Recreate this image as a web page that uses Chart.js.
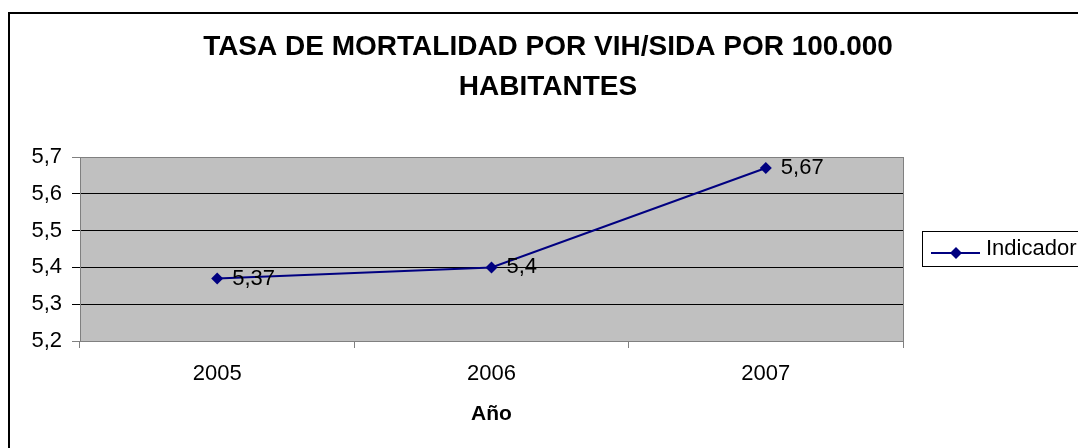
<!DOCTYPE html>
<html lang="es">
<head>
<meta charset="utf-8">
<title>Tasa de mortalidad por VIH/SIDA</title>
<script src="https://cdn.jsdelivr.net/npm/chart.js@4.4.1/dist/chart.umd.min.js"></script>
<style>
  html, body { margin: 0; padding: 0; background: #fff; }
  #contenedor { width: 1078px; height: 448px; }
</style>
</head>
<body>
<div id="contenedor"><canvas id="grafico" width="1078" height="448"></canvas></div>
<script>
// ── Datos ───────────────────────────────────────────────────────────────────
const anos = ['2005', '2006', '2007']
const indicador = [5.37, 5.4, 5.67]
const nombreSerie = 'Indicador'
const titulo = ['TASA DE MORTALIDAD POR VIH/SIDA POR 100.000', 'HABITANTES']
const tituloEjeX = 'Año'
const ejeYMin = 5.2
const ejeYMax = 5.7
const ejeYPaso = 0.1

const FUENTE = "'Liberation Sans', Arial, sans-serif"
const AZUL = '#000080'

const conComa = (v) => String(v).replace('.', ',')

// ── Decoración estilo Excel (fondo, título, leyenda, etiquetas) ─────────────
const decoracion = {
  id: 'decoracion',
  beforeDraw(chart) {
    const { ctx, chartArea: a } = chart
    ctx.save()
    ctx.fillStyle = '#fff'
    ctx.fillRect(0, 0, chart.width, chart.height)
    ctx.strokeStyle = '#000'
    ctx.lineWidth = 2
    ctx.strokeRect(9, 13, 1400, 800)
    ctx.fillStyle = '#c0c0c0'
    ctx.fillRect(a.left, a.top, a.right - a.left, a.bottom - a.top)
    ctx.restore()
  },
  afterDatasetsDraw(chart) {
    const { ctx } = chart
    const meta = chart.getDatasetMeta(0)
    ctx.save()
    ctx.fillStyle = '#000'
    ctx.font = `22px ${FUENTE}`
    ctx.textBaseline = 'middle'
    ctx.textAlign = 'left'
    meta.data.forEach((pt, i) => {
      ctx.fillText(conComa(indicador[i]), pt.x + 15, pt.y)
    })
    ctx.restore()
  },
  afterDraw(chart) {
    const { ctx, chartArea: a } = chart
    ctx.save()
    // borde derecho del área de trazado
    ctx.strokeStyle = '#808080'
    ctx.lineWidth = 1
    ctx.beginPath()
    ctx.moveTo(Math.round(a.right) + 0.5, a.top)
    ctx.lineTo(Math.round(a.right) + 0.5, a.bottom)
    ctx.stroke()

    // título
    ctx.fillStyle = '#000'
    ctx.textAlign = 'center'
    ctx.textBaseline = 'middle'
    ctx.font = `bold 28px ${FUENTE}`
    ctx.fillText(titulo[0], 548, 47)
    ctx.fillText(titulo[1], 548, 87)

    // título del eje X
    ctx.font = `bold 21px ${FUENTE}`
    ctx.fillText(tituloEjeX, (a.left + a.right) / 2, 414)

    // leyenda
    ctx.fillStyle = '#fff'
    ctx.fillRect(922, 231, 200, 36)
    ctx.strokeStyle = '#000'
    ctx.strokeRect(922.5, 231.5, 200, 35)
    ctx.strokeStyle = AZUL
    ctx.lineWidth = 2
    ctx.beginPath()
    ctx.moveTo(931, 253)
    ctx.lineTo(980, 253)
    ctx.stroke()
    ctx.fillStyle = AZUL
    ctx.beginPath()
    ctx.moveTo(956, 247)
    ctx.lineTo(962, 253)
    ctx.lineTo(956, 259)
    ctx.lineTo(950, 253)
    ctx.closePath()
    ctx.fill()
    ctx.fillStyle = '#000'
    ctx.textAlign = 'left'
    ctx.font = `22px ${FUENTE}`
    ctx.fillText(nombreSerie, 986, 249)
    ctx.restore()
  },
}

// ── Gráfico ─────────────────────────────────────────────────────────────────
new Chart(document.getElementById('grafico'), {
  type: 'line',
  data: {
    labels: anos,
    datasets: [
      {
        label: nombreSerie,
        data: indicador,
        borderColor: AZUL,
        backgroundColor: AZUL,
        borderWidth: 2,
        tension: 0,
        pointStyle: 'rectRot',
        pointRadius: 6,
        pointBorderWidth: 0,
        pointBackgroundColor: AZUL,
      },
    ],
  },
  options: {
    responsive: false,
    animation: false,
    layout: { padding: { top: 157, right: 175, left: 0, bottom: 0 } },
    plugins: {
      legend: { display: false },
      title: { display: false },
      tooltip: { enabled: false },
    },
    scales: {
      x: {
        offset: true,
        grid: {
          offset: true,
          drawOnChartArea: false,
          tickLength: 7,
          color: '#808080',
        },
        border: { color: '#808080' },
        ticks: {
          padding: 13,
          maxRotation: 0,
          color: '#000',
          font: { family: FUENTE, size: 22 },
        },
        afterFit: (s) => {
          s.height = 107
        },
      },
      y: {
        min: ejeYMin,
        max: ejeYMax,
        ticks: {
          stepSize: ejeYPaso,
          padding: 10,
          color: '#000',
          font: { family: FUENTE, size: 22 },
          callback: (v) => v.toFixed(1).replace('.', ','),
        },
        grid: {
          tickLength: 8,
          color: (c) =>
            c.index === 0 || c.tick?.value >= ejeYMax - 0.001 ? '#808080' : '#000',
        },
        border: { color: '#808080' },
        afterFit: (s) => {
          s.width = 80
        },
      },
    },
  },
  plugins: [decoracion],
})
</script>
</body>
</html>
